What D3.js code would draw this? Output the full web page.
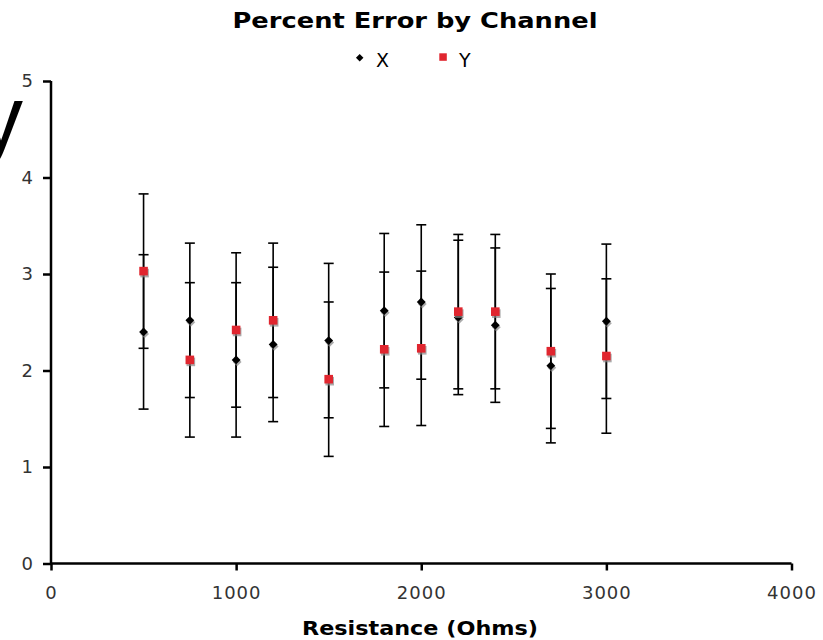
<!DOCTYPE html>
<html>
<head>
<meta charset="utf-8">
<script src="https://cdn.jsdelivr.net/npm/d3@7/dist/d3.min.js"></script>
<style>
  body { margin: 0; background: #fff; }
  .canvas svg { display: block; }
</style>
</head>
<body>
<div class="canvas"></div>
<script>
// resistance values (ohms) shared by both channels
const resistance = [500, 750, 1000, 1200, 1500, 1800, 2000, 2200, 2400, 2700, 3000];
// percent error, channel X and channel Y
const errX = [2.40, 2.52, 2.11, 2.27, 2.31, 2.62, 2.71, 2.55, 2.47, 2.05, 2.51];
const errY = [3.03, 2.11, 2.42, 2.52, 1.91, 2.22, 2.23, 2.61, 2.61, 2.20, 2.15];
// error bar half-widths
const barX = [0.8, 0.8, 0.8, 0.8, 0.8, 0.8, 0.8, 0.8, 0.8, 0.8, 0.8];
const barY = [0.8, 0.8, 0.8, 0.8, 0.8, 0.8, 0.8, 0.8, 0.8, 0.8, 0.8];

const xTicks = [0, 1000, 2000, 3000, 4000];
const yTicks = [0, 1, 2, 3, 4, 5];

const dims = { width: 823, height: 640 };
const plot = { left: 51, right: 791.5, top: 81, bottom: 563.5 };

const svg = d3.select('.canvas').append('svg')
  .attr('width', dims.width)
  .attr('height', dims.height)

const x = d3.scaleLinear().domain([0, 4000]).range([plot.left, plot.right]);
const y = d3.scaleLinear().domain([0, 5]).range([plot.bottom, plot.top]);

// title
svg.append('text')
  .attr('x', 415).attr('y', 28)
  .attr('text-anchor', 'middle')
  .attr('font-family', 'DejaVu Sans')
  .attr('font-weight', 'bold')
  .attr('font-size', 22)
  .attr('textLength', 365)
  .attr('lengthAdjust', 'spacingAndGlyphs')
  .text('Percent Error by Channel');

// the huge "y" on the left edge, clipped by the page like in the original
svg.append('text')
  .attr('x', -22).attr('y', 149)
  .attr('font-family', 'Liberation Sans')
  .attr('font-size', 90)
  .text('y');

// axes
const xAxis = d3.axisBottom(x).tickValues(xTicks).tickFormat(d3.format('d'))
  .tickSize(7).tickSizeOuter(0).tickPadding(16);
const yAxis = d3.axisLeft(y).tickValues(yTicks).tickFormat(d3.format('d'))
  .tickSize(8).tickSizeOuter(0).tickPadding(10);

const gx = svg.append('g')
  .attr('transform', `translate(0, ${plot.bottom})`)
  .call(xAxis);
const gy = svg.append('g')
  .attr('transform', `translate(${plot.left}, 0)`)
  .call(yAxis);

[gx, gy].forEach(g => {
  g.selectAll('path, line').attr('stroke', '#000').attr('stroke-width', 2.5);
  g.selectAll('text')
    .attr('fill', '#333')
    .attr('font-family', 'DejaVu Sans')
    .attr('font-size', 18)
    .attr('letter-spacing', 1);
});
gy.selectAll('text').attr('letter-spacing', 0);
// the plain domain line should not poke past the ticks
gx.select('.domain').attr('d', `M${plot.left},0H${plot.right}`);
gy.select('.domain').attr('d', `M0,${plot.bottom}V${plot.top}`);

// x axis title
svg.append('text')
  .attr('x', 420).attr('y', 635)
  .attr('text-anchor', 'middle')
  .attr('font-family', 'DejaVu Sans')
  .attr('font-weight', 'bold')
  .attr('font-size', 19)
  .attr('textLength', 236)
  .attr('lengthAdjust', 'spacingAndGlyphs')
  .text('Resistance (Ohms)');

// data rows
const series = [
  { name: 'X', values: errX, bars: barX },
  { name: 'Y', values: errY, bars: barY }
];
const rows = s => resistance.map((r, i) => ({ r, v: s.values[i], e: s.bars[i], name: s.name }));

// error bars first, markers on top
const bars = svg.append('g');
series.forEach(s => {
  const g = bars.selectAll(null).data(rows(s)).enter().append('g');
  g.append('line')
    .attr('x1', d => x(d.r)).attr('x2', d => x(d.r))
    .attr('y1', d => y(d.v + d.e)).attr('y2', d => y(d.v - d.e))
    .attr('stroke', '#000').attr('stroke-width', 1.6);
  [1, -1].forEach(sign => {
    g.append('line')
      .attr('x1', d => x(d.r) - 5).attr('x2', d => x(d.r) + 5)
      .attr('y1', d => y(d.v + sign * d.e)).attr('y2', d => y(d.v + sign * d.e))
      .attr('stroke', '#000').attr('stroke-width', 1.6);
  });
});

const diamond = d3.symbol().type(d3.symbolDiamond2).size(50);

const drawMarkers = (s, shadow) => {
  const g = svg.append('g');
  const sel = g.selectAll('path').data(rows(s)).enter().append('path')
    .attr('transform', d => `translate(${x(d.r) + (shadow ? 1 : 0)}, ${y(d.v) + (shadow ? 2 : 0)})`);
  if (s.name === 'X') {
    sel.attr('d', diamond);
  } else {
    sel.attr('d', 'M-4.3,-4.3H4.3V4.3H-4.3Z');
  }
  sel.attr('fill', shadow ? '#888' : (s.name === 'X' ? '#000' : '#e0262f'))
    .attr('opacity', shadow ? 0.7 : 1);
};
series.forEach(s => { drawMarkers(s, true); drawMarkers(s, false); });

// legend
const legend = svg.append('g');
legend.append('path')
  .attr('transform', 'translate(359.7, 57.8)')
  .attr('d', d3.symbol().type(d3.symbolDiamond2).size(36))
  .attr('fill', '#000');
legend.append('text')
  .attr('x', 376).attr('y', 66.5)
  .attr('font-family', 'DejaVu Sans').attr('font-size', 19)
  .text('X');
legend.append('rect')
  .attr('x', 439.3).attr('y', 53.3).attr('width', 7.5).attr('height', 7.5)
  .attr('fill', '#e0262f');
legend.append('text')
  .attr('x', 459).attr('y', 66.5)
  .attr('font-family', 'DejaVu Sans').attr('font-size', 19)
  .text('Y');
</script>
</body>
</html>
